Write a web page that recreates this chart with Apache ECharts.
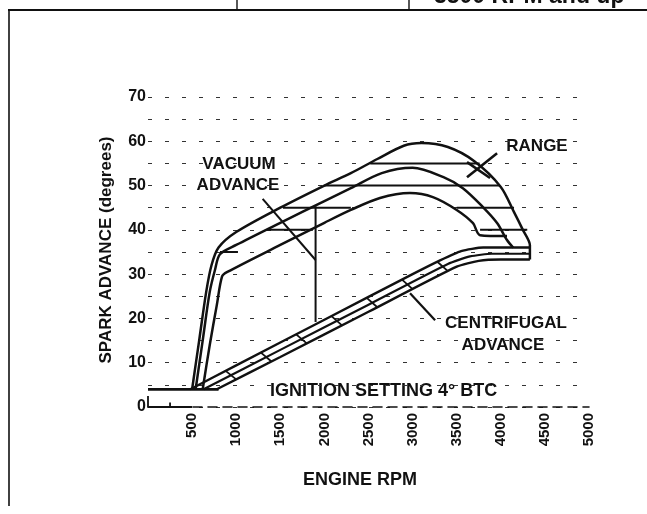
<!DOCTYPE html>
<html>
<head>
<meta charset="utf-8">
<script src="https://cdn.jsdelivr.net/npm/echarts/dist/echarts.min.js"></script>
<style>
  html, body { margin: 0; padding: 0; background: #fff; }
  #chart { width: 647px; height: 514px; }
</style>
</head>
<body>
<div id="chart"></div>
<script>
// Engine speed (rpm) vs spark advance (degrees BTC)
const rpmTicks = [500, 1000, 1500, 2000, 2500, 3000, 3500, 4000, 4500, 5000];
const advanceTicks = [0, 10, 20, 30, 40, 50, 60, 70];

// Base ignition timing, 4 degrees BTC
const ignitionSetting = [[0, 4], [800, 4]];

// Centrifugal advance band (three curves)
const centrifugalUpper = [[480, 4], [1000, 9.4], [2000, 19.7], [3000, 30], [3300, 33], [3550, 35.2], [3800, 36], [4330, 36]];
const centrifugalMiddle = [[630, 4], [1500, 12.9], [2500, 23.1], [3400, 32.3], [3650, 34], [3900, 34.6], [4330, 34.6]];
const centrifugalLower = [[780, 4], [1500, 11.3], [2500, 21.5], [3500, 31.7], [3750, 33], [4000, 33.3], [4330, 33.3]];
const centrifugalTicks = [1000, 1400, 1800, 2200, 2600, 3000, 3400];

// Total advance with vacuum (range of three curves)
const vacuumUpper = [[500, 4], [580, 15], [660, 26], [720, 32], [800, 36], [1000, 39.5], [1500, 45], [2000, 50], [2300, 52.8], [2600, 56], [2900, 59], [3100, 59.6], [3400, 58.7], [3700, 55.5], [4000, 49.7], [4150, 44], [4250, 40], [4330, 36.5], [4330, 33.3]];
const vacuumMiddle = [[540, 4], [620, 15], [700, 26], [760, 31], [816, 34.5], [1000, 36.6], [1500, 41.6], [2000, 46.5], [2300, 49.4], [2650, 52.8], [3000, 54], [3350, 51.9], [3570, 49.4], [3800, 45.1], [3960, 41.5], [4070, 37.7], [4140, 36]];
const vacuumLower = [[620, 4], [700, 14], [780, 23], [840, 29.5], [900, 30.5], [1500, 36.6], [2000, 41.6], [2300, 44.5], [2630, 47.2], [2970, 48.3], [3230, 47.4], [3500, 44.5], [3685, 41.5], [3765, 38.8], [4070, 38.6]];

// Horizontal hatching across the vacuum range: [degrees, from rpm, to rpm]
const vacuumHatch = [[35, 816, 1020], [40, 1350, 1870], [40, 3765, 4300], [45, 1530, 2300], [45, 3500, 4150], [50, 2000, 3990], [55, 2520, 3760]];

// Connector between the vacuum range and the centrifugal band
const connector = [[1900, 19.2], [1900, 45.3]];

// Callout leaders
const leaderVacuum = [[1300, 47], [1900, 33.2]];
const leaderRange = [[3958, 57.3], [3617, 51.9]];
const leaderRangeCross = [[3617, 55.3], [3878, 51.7]];
const leaderCentrifugal = [[2971, 25.7], [3255, 19.6]];

// Corner bracket of the axes
const axisBracket = [[0, 2.5], [0, 0], [500, 0]];
const axisBracketTick = [[250, 0], [250, 1]];

function valueAt(line, x) {
  for (let i = 1; i < line.length; i++) {
    const a = line[i - 1], b = line[i];
    if (x >= a[0] && x <= b[0] && b[0] !== a[0]) {
      return a[1] + (b[1] - a[1]) * (x - a[0]) / (b[0] - a[0]);
    }
  }
  return null;
}

const INK = '#111';
const FONT = '"Liberation Sans", Arial, sans-serif';

function lineSeries(data, width, smooth) {
  return {
    type: 'line', data: data, showSymbol: false, symbol: 'none', silent: true,
    smooth: smooth || false, animation: false,
    lineStyle: { color: INK, width: width }
  };
}

const series = [
  lineSeries(ignitionSetting, 2.8),
  lineSeries(centrifugalUpper, 2.4, 0.2),
  lineSeries(centrifugalMiddle, 2.2, 0.2),
  lineSeries(centrifugalLower, 2.4, 0.2),
  lineSeries(vacuumUpper, 2.5, 0.3),
  lineSeries(vacuumMiddle, 2.5, 0.3),
  lineSeries(vacuumLower, 2.5, 0.3),
  lineSeries(connector, 2),
  lineSeries(leaderVacuum, 2),
  lineSeries(leaderRange, 2.6),
  lineSeries(leaderRangeCross, 2.6),
  lineSeries(leaderCentrifugal, 2.2),
  lineSeries(axisBracket, 1.8),
  lineSeries(axisBracketTick, 1.8)
];

vacuumHatch.forEach(function (h) {
  series.push(lineSeries([[h[1], h[0]], [h[2], h[0]]], 2));
});
centrifugalTicks.forEach(function (r) {
  series.push(lineSeries([[r, valueAt(centrifugalLower, r)], [r - 120, valueAt(centrifugalUpper, r - 120)]], 1.8));
});

const chart = echarts.init(document.getElementById('chart'), null, { renderer: 'canvas' });

function text(str, x, y, size, extra) {
  return Object.assign({
    type: 'text', x: x, y: y, silent: true,
    style: {
      text: str, fill: INK, font: 'bold ' + size + 'px ' + FONT,
      textAlign: 'center', textVerticalAlign: 'middle'
    }
  }, extra || {});
}

chart.setOption({
  animation: false,
  backgroundColor: '#fff',
  grid: { left: 148, right: 58, top: 97, bottom: 107 },
  xAxis: {
    type: 'value', min: 0, max: 5000, interval: 500,
    axisLine: { show: true, lineStyle: { color: INK, width: 1.6, type: [9, 6] } },
    axisTick: { show: false },
    splitLine: { show: false },
    axisLabel: {
      rotate: 90, margin: 6, color: INK, fontSize: 15, fontWeight: 'bold', fontFamily: FONT,
      formatter: function (v) { return rpmTicks.indexOf(v) >= 0 ? String(v) : ''; }
    }
  },
  yAxis: {
    type: 'value', min: 0, max: 70, interval: 5,
    axisLine: { show: false },
    axisTick: { show: false },
    splitLine: { show: true, lineStyle: { color: '#333', width: 1.2, type: [4, 13] } },
    axisLabel: {
      margin: 2, color: INK, fontSize: 16, fontWeight: 'bold', fontFamily: FONT,
      formatter: function (v) { return advanceTicks.indexOf(v) >= 0 ? String(v) : ''; }
    }
  },
  series: series,
  graphic: [
    // frame of the surrounding table
    { type: 'line', silent: true, shape: { x1: 8, y1: 10, x2: 647, y2: 10 }, style: { stroke: INK, lineWidth: 2 } },
    { type: 'line', silent: true, shape: { x1: 9, y1: 10, x2: 9, y2: 506 }, style: { stroke: INK, lineWidth: 1.6 } },
    { type: 'line', silent: true, shape: { x1: 237, y1: 0, x2: 237, y2: 10 }, style: { stroke: INK, lineWidth: 1.4 } },
    { type: 'line', silent: true, shape: { x1: 409, y1: 0, x2: 409, y2: 10 }, style: { stroke: INK, lineWidth: 1.4 } },
    { type: 'text', x: 434, y: -3, silent: true,
      style: { text: '3500 RPM and up', fill: INK, font: 'bold 23px ' + FONT, textAlign: 'left', textVerticalAlign: 'middle' } },
    // axis titles
    text('SPARK ADVANCE (degrees)', 106, 250, 17, { rotation: Math.PI / 2 }),
    text('ENGINE RPM', 360, 480, 18),
    // annotations
    text('VACUUM', 239, 164, 17),
    text('ADVANCE', 238, 185, 17),
    text('RANGE', 537, 146, 17),
    text('CENTRIFUGAL', 506, 323, 17),
    text('ADVANCE', 503, 345, 17),
    { type: 'text', x: 270, y: 391, silent: true,
      style: { text: 'IGNITION SETTING 4° BTC', fill: INK, font: 'bold 18px ' + FONT, textAlign: 'left', textVerticalAlign: 'middle' } }
  ]
});
</script>
</body>
</html>
